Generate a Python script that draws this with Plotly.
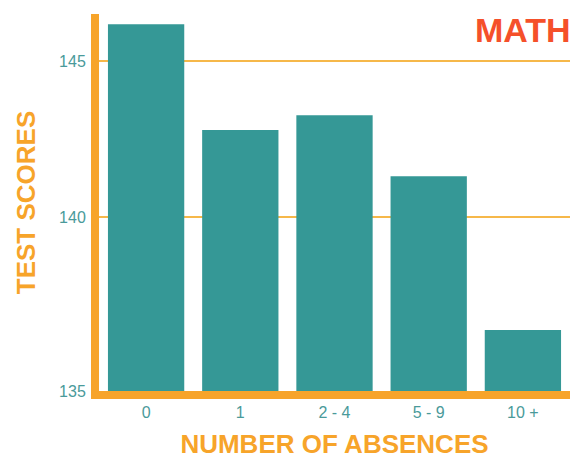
import plotly.graph_objects as go

categories = ["0", "1", "2 - 4", "5 - 9", "10 +"]
scores = [146.19, 142.80, 143.27, 141.31, 136.38]
y_tick_vals = [134.42, 140, 145]
y_tick_text = ["135", "140", "145"]

TEAL = "#359896"
ORANGE = "#f7a42a"
TICK = "#4a9a9a"

fig = go.Figure(go.Bar(x=categories, y=scores, marker=dict(color=TEAL, line=dict(width=0))))

fig.update_layout(
    width=572, height=459,
    margin=dict(l=99, r=2, t=14, b=66),
    plot_bgcolor="white", paper_bgcolor="white",
    bargap=0.19,
    showlegend=False,
    font=dict(family="Liberation Sans, Arial, sans-serif"),
)
fig.update_xaxes(
    showline=True, linecolor=ORANGE, linewidth=8,
    showgrid=False, ticks="",
    tickfont=dict(size=16, color=TICK),
    title=dict(text="<b>NUMBER OF ABSENCES</b>", font=dict(size=26, color=ORANGE), standoff=18),
)
fig.update_yaxes(
    range=[134.42, 146.52],
    showline=True, linecolor=ORANGE, linewidth=8,
    showgrid=True, gridcolor="#f6b84a", gridwidth=1.5,
    zeroline=False,
    tickvals=y_tick_vals, ticktext=y_tick_text,
    ticks="outside", ticklen=2, tickcolor="rgba(0,0,0,0)",
    tickfont=dict(size=16, color=TICK),
    title=dict(text="<b>TEST SCORES</b>", font=dict(size=26, color=ORANGE), standoff=19),
)
fig.add_annotation(
    text="<b>MATH</b>", xref="paper", yref="paper", x=1.0, y=1.0,
    xanchor="right", yanchor="top", showarrow=False,
    xshift=3, yshift=5,
    font=dict(size=34, color="#f5502a"),
)
fig.write_html("out.html", config={"displayModeBar": False},
               post_script="document.body.style.margin='0';document.body.style.overflow='hidden';")
